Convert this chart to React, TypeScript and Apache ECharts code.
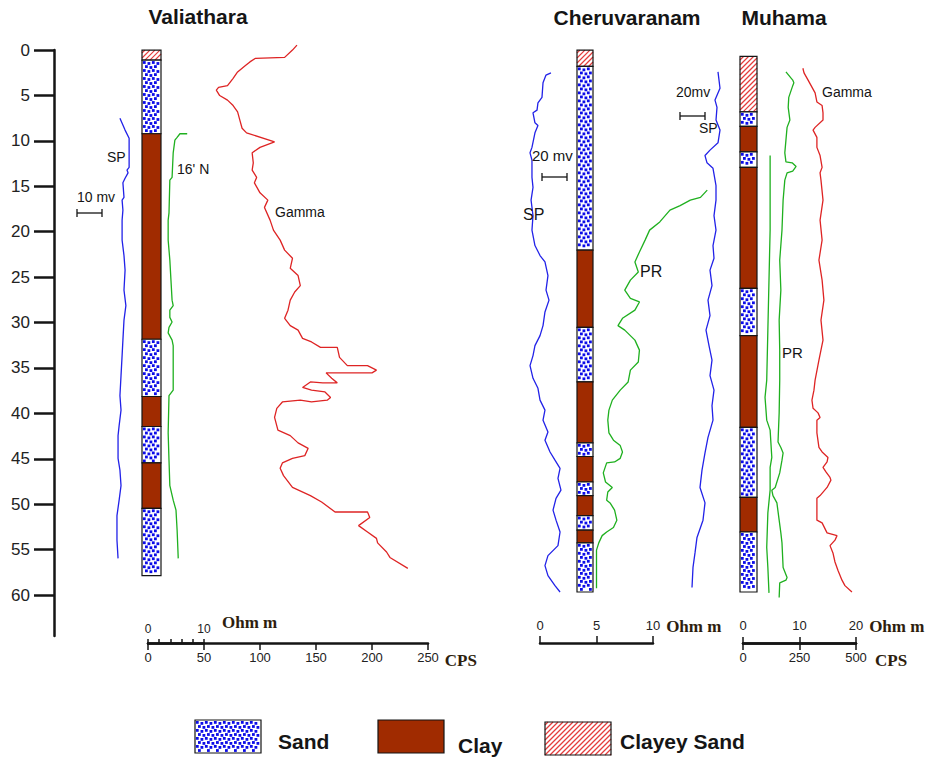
import React, { useEffect, useRef } from 'react';
import * as echarts from 'echarts';

// ---------- axis ticks ----------
const depthTicks = [0, 5, 10, 15, 20, 25, 30, 35, 40, 45, 50, 55, 60];
const valOhmTicks = [0, 2, 4, 6, 8, 10];
const valOhmLabels = [0, 10];
const cherOhmTicks = [0, 5, 10];
const muhOhmTicks = [0, 10, 20];
const muhCpsTicks = [0, 250, 500];

// ---------- lithology (depth in m) ----------
const LITH_KINDS = ['Sand', 'Clay', 'Clayey Sand'];

const valTops = [0, 1.1, 9.2, 31.8, 38.1, 41.4, 45.4, 50.4];
const valBases = [1.1, 9.2, 31.8, 38.1, 41.4, 45.4, 50.4, 57.8];
const valKinds = ['Clayey Sand', 'Sand', 'Clay', 'Sand', 'Clay', 'Sand', 'Clay', 'Sand'];

const cherTops = [0, 1.8, 22.0, 30.5, 36.5, 43.2, 44.7, 47.5, 49.0, 51.2, 52.8, 54.2];
const cherBases = [1.8, 22.0, 30.5, 36.5, 43.2, 44.7, 47.5, 49.0, 51.2, 52.8, 54.2, 59.6];
const cherKinds = ['Clayey Sand', 'Sand', 'Clay', 'Sand', 'Clay', 'Sand', 'Clay', 'Sand', 'Clay', 'Sand', 'Clay', 'Sand'];

const muhTops = [0.7, 6.8, 8.4, 11.2, 12.9, 26.2, 31.4, 41.5, 49.2, 53.0];
const muhBases = [6.8, 8.4, 11.2, 12.9, 26.2, 31.4, 41.5, 49.2, 53.0, 59.6];
const muhKinds = ['Clayey Sand', 'Sand', 'Clay', 'Sand', 'Clay', 'Sand', 'Clay', 'Sand', 'Clay', 'Sand'];

// ---------- Valiathara logs ----------
const valSpDepth = [7.5, 8.8, 9.7, 12.9, 13.2, 13.5, 14.1, 14.6, 16.2, 16.5, 17.6, 18.7, 20.9, 22.6, 24.2, 26.4, 28.1, 29.7, 31.9, 33.6, 35.8, 38.0, 39.6, 41.3, 42.4, 44.9, 46.2, 47.9, 49.5, 51.2, 53.9, 55.9];
const valSpMv = [22.2, 24.1, 25.6, 25.6, 24.8, 25.2, 24.1, 23.3, 23.7, 23.0, 23.3, 23.0, 23.0, 23.7, 24.1, 23.7, 24.4, 23.7, 23.3, 23.0, 22.6, 22.2, 22.6, 21.9, 21.5, 21.5, 22.2, 22.6, 21.9, 21.1, 21.1, 21.5];

const valResDepth = [9.2, 9.2, 9.6, 9.9, 11.3, 14.0, 14.3, 17.9, 18.7, 20.9, 23.1, 25.3, 27.5, 28.1, 28.6, 29.4, 29.9, 30.5, 31.1, 31.9, 32.5, 37.4, 38.0, 42.1, 45.1, 47.9, 49.5, 50.6, 52.8, 55.9];
const valResOhm = [7.0, 5.7, 5.2, 4.8, 4.5, 4.3, 3.9, 3.75, 3.6, 3.6, 3.9, 4.1, 4.3, 4.5, 3.9, 3.9, 4.3, 3.75, 3.6, 4.3, 4.5, 4.5, 3.75, 3.6, 3.75, 3.9, 4.5, 5.0, 5.2, 5.4];

const valGammaDepth = [-0.55, 0, 0.8, 0.9, 1.3, 1.7, 2.4, 3.1, 3.9, 4.1, 4.4, 5.0, 5.5, 6.1, 6.8, 7.7, 8.6, 9.1, 10.1, 10.7, 11.3, 12.4, 13.2, 14.0, 14.6, 15.7, 16.5, 17.3, 18.7, 19.8, 20.9, 22.0, 22.9, 24.0, 24.8, 25.9, 26.6, 27.5, 28.6, 29.5, 30.3, 30.8, 31.7, 32.1, 32.7, 32.7, 33.8, 34.7, 34.7, 35.2, 35.5, 35.5, 35.5, 36.1, 36.6, 36.6, 36.5, 37.1, 37.4, 37.6, 38.2, 38.5, 38.7, 38.5, 38.7, 39.4, 40.4, 41.8, 42.4, 43.2, 43.8, 44.6, 44.9, 45.4, 46.0, 46.8, 48.1, 49.0, 49.7, 50.8, 50.8, 51.4, 52.3, 53.0, 53.7, 54.2, 55.2, 55.8, 57.0];
const valGammaCps = [133, 129, 122, 96, 91, 87, 80, 76, 71, 63, 61, 64, 71, 76, 80, 82, 84, 88, 113, 100, 93, 94, 93, 97, 95, 100, 107, 104, 109, 112, 118, 122, 129, 127, 134, 136, 131, 127, 125, 122, 127, 134, 138, 146, 154, 169, 171, 178, 196, 204, 200, 163, 159, 164, 169, 156, 145, 138, 146, 158, 163, 160, 146, 136, 120, 115, 113, 116, 127, 134, 143, 140, 129, 120, 118, 121, 129, 145, 155, 167, 196, 198, 188, 196, 204, 205, 213, 216, 232];

// ---------- Cheruvaranam logs ----------
const cherSpDepth = [2.5, 2.75, 3.6, 5.2, 5.8, 6.6, 6.9, 8.0, 8.3, 9.1, 10.7, 11.3, 12.1, 14.0, 15.1, 16.5, 18.2, 19.8, 21.5, 22.6, 23.3, 24.8, 26.4, 27.5, 28.8, 30.3, 31.4, 32.5, 33.6, 34.7, 36.1, 37.2, 38.5, 39.6, 40.7, 42.0, 42.9, 44.2, 45.1, 46.0, 47.1, 48.4, 49.3, 50.6, 51.7, 53.0, 54.5, 55.6, 56.7, 57.8, 58.9, 59.6];
const cherSpMv = [31.5, 27.7, 25.4, 24.6, 21.5, 20.8, 17.7, 19.2, 21.5, 19.2, 16.9, 15.4, 16.9, 16.9, 17.7, 16.2, 17.7, 16.9, 19.2, 23.1, 26.9, 29.2, 27.7, 30.0, 26.9, 25.4, 23.1, 19.2, 17.7, 15.4, 17.7, 21.5, 23.1, 26.9, 25.4, 29.2, 26.9, 30.8, 34.6, 38.5, 36.9, 39.2, 35.4, 33.1, 35.4, 38.5, 36.9, 29.2, 26.9, 29.2, 34.6, 38.5];

const cherPrDepth = [15.4, 16.2, 16.5, 17.1, 17.6, 18.9, 19.8, 20.9, 22.2, 23.3, 24.4, 25.3, 26.4, 27.3, 27.7, 28.6, 29.5, 30.3, 30.8, 31.9, 33.0, 34.3, 35.2, 36.5, 37.4, 38.5, 39.6, 40.7, 42.1, 42.9, 43.5, 44.2, 44.9, 45.3, 45.4, 46.5, 47.5, 48.1, 48.6, 49.5, 49.8, 50.6, 51.7, 52.5, 53.0, 53.4, 54.2, 55.0, 59.2];
const cherPrOhm = [14.8, 14.2, 13.3, 12.4, 11.5, 10.6, 9.7, 9.3, 8.8, 8.4, 8.7, 8.0, 7.5, 8.0, 8.8, 8.4, 7.3, 6.9, 7.5, 8.4, 8.8, 8.7, 8.0, 7.8, 7.1, 6.4, 6.1, 6.0, 6.1, 6.5, 7.1, 7.3, 7.1, 6.6, 5.9, 5.6, 5.8, 6.4, 6.0, 5.9, 6.2, 6.6, 6.8, 6.5, 5.9, 5.5, 5.2, 5.0, 5.0];

// ---------- Muhama logs ----------
const muhSpDepth = [2.4, 4.2, 5.5, 6.3, 7.7, 8.8, 10.2, 11.0, 11.6, 12.4, 13.0, 14.9, 16.5, 18.2, 19.8, 21.5, 22.9, 24.2, 25.9, 27.5, 29.2, 30.8, 32.5, 34.1, 35.8, 37.4, 39.1, 40.7, 42.6, 44.3, 46.2, 48.1, 49.8, 51.7, 53.6, 55.3, 56.9, 59.1];
const muhSpMv = [38.4, 40.0, 36.0, 37.6, 36.8, 40.0, 38.4, 32.0, 28.0, 29.6, 34.4, 36.8, 36.8, 35.2, 36.8, 34.4, 35.2, 32.0, 33.6, 30.4, 32.0, 28.8, 31.2, 33.6, 32.0, 35.2, 33.6, 34.4, 30.4, 28.0, 25.6, 24.0, 28.0, 26.4, 21.6, 20.0, 18.4, 17.6];

const muhPrLongDepth = [2.4, 3.3, 3.6, 4.1, 5.2, 6.3, 7.7, 8.5, 9.9, 11.3, 12.3, 12.4, 12.8, 13.3, 13.5, 14.3, 16.5, 19.8, 23.1, 26.4, 29.7, 33.0, 36.3, 39.9, 43.1, 43.7, 44.3, 45.1, 46.5, 48.1, 48.4, 49.0, 49.8, 51.7, 53.1, 54.2, 56.9, 58.0, 58.3, 58.6, 60.2];
const muhPrLongOhm = [7.6, 8.8, 9.0, 8.7, 8.1, 8.0, 8.3, 7.8, 7.6, 7.4, 7.6, 8.7, 9.4, 8.8, 7.8, 7.4, 7.1, 6.9, 6.5, 6.7, 6.4, 6.5, 6.5, 6.4, 6.2, 6.7, 7.1, 6.9, 6.5, 5.7, 5.1, 5.3, 6.0, 6.4, 6.7, 6.9, 7.1, 7.8, 7.6, 6.5, 6.4];

const muhPrShortDepth = [11.6, 14.3, 19.8, 25.3, 30.8, 36.3, 38.2, 40.7, 41.8, 44.8, 45.9, 48.4, 50.9, 54.7, 56.9, 59.7];
const muhPrShortOhm = [4.8, 4.8, 4.8, 4.6, 4.4, 4.2, 3.9, 4.2, 4.8, 5.1, 4.8, 4.8, 4.4, 4.2, 4.4, 4.6];

const muhGammaDepth = [2.0, 2.5, 3.3, 4.7, 5.7, 6.1, 6.9, 7.7, 8.5, 8.8, 9.6, 10.7, 11.6, 12.9, 13.5, 14.3, 16.5, 18.7, 20.9, 23.1, 25.3, 27.5, 29.7, 31.9, 34.1, 36.3, 37.4, 38.5, 39.4, 39.9, 40.4, 40.7, 42.1, 43.7, 44.2, 44.8, 45.3, 45.9, 46.4, 47.0, 47.3, 48.1, 49.0, 49.3, 51.7, 52.0, 53.1, 53.4, 53.9, 54.5, 55.3, 56.3, 57.2, 58.3, 58.9, 59.6];
const muhGammaCps = [265, 270, 288, 319, 327, 350, 354, 354, 319, 310, 327, 327, 341, 350, 341, 345, 354, 341, 350, 336, 350, 358, 345, 354, 336, 319, 314, 305, 310, 332, 341, 327, 327, 336, 350, 376, 372, 354, 367, 385, 389, 372, 341, 327, 327, 350, 372, 416, 407, 385, 398, 407, 420, 438, 451, 482];

// ---------- styles ----------
const INK = '#151515';
const DOT_BLUE = '#0c0ce8';
const SP_BLUE = '#2222e8';
const PR_GREEN = '#1fb01f';
const GAMMA_RED = '#de2424';
const CLAY_COLOR = '#a02b00';
const HATCH_RED = '#e43c3c';
const UNIT_COLOR = '#2e1e0e';
const SANS = '"Liberation Sans", Arial, sans-serif';
const SERIF = '"Liberation Serif", "Times New Roman", serif';

function lithChildren(kind: string, x: number, y: number, w: number, h: number): any[] {
  const out: any[] = [];
  if (kind === 'Clay') {
    out.push({ type: 'rect', shape: { x, y, width: w, height: h }, style: { fill: CLAY_COLOR, stroke: INK, lineWidth: 1.2 } });
    return out;
  }
  out.push({ type: 'rect', shape: { x, y, width: w, height: h }, style: { fill: '#ffffff' } });
  if (kind === 'Sand') {
    const TW = 9, TH = 8, s = 2.8;
    const dots = [[0.2, 0.3], [4.8, 1.3], [2.3, 4.4], [6.8, 5.3]];
    for (let ty = y; ty < y + h; ty += TH) {
      for (let tx = x; tx < x + w; tx += TW) {
        for (const [dx, dy] of dots) {
          const px = tx + dx + 0.7, py = ty + dy + 0.7;
          if (px + s <= x + w - 0.5 && py + s <= y + h - 0.5) {
            out.push({ type: 'rect', shape: { x: px, y: py, width: s, height: s }, style: { fill: DOT_BLUE } });
          }
        }
      }
    }
  } else {
    const sp = 5;
    const cStart = Math.ceil((x + y) / sp) * sp;
    for (let c = cStart; c < x + w + y + h; c += sp) {
      const xa = Math.max(x, c - (y + h));
      const xb = Math.min(x + w, c - y);
      if (xb - xa < 0.5) continue;
      out.push({ type: 'line', shape: { x1: xa, y1: c - xa, x2: xb, y2: c - xb }, style: { stroke: HATCH_RED, lineWidth: 1.2 } });
    }
  }
  out.push({ type: 'rect', shape: { x, y, width: w, height: h }, style: { fill: 'none', stroke: INK, lineWidth: 1.2 } });
  return out;
}

const CURVE_TOP = 41;
const CURVE_H = 591;

const grids = [
  { left: 54, top: 50, width: 10, height: 586 }, // 0 depth axis
  { left: 142, width: 19 }, // 1 Valiathara lithology
  { left: 60, width: 81 }, // 2 Valiathara SP (mV)
  { left: 148, width: 56 }, // 3 Valiathara 16' N (ohm m)
  { left: 148, width: 280 }, // 4 Valiathara gamma (CPS)
  { left: 577, width: 16 }, // 5 Cheruvaranam lithology
  { left: 510, width: 65 }, // 6 Cheruvaranam SP
  { left: 540, width: 113 }, // 7 Cheruvaranam PR scale (0-10 ohm m)
  { left: 740, width: 17 }, // 8 Muhama lithology
  { left: 670, width: 62.5 }, // 9 Muhama SP
  { left: 743, width: 113 }, // 10 Muhama PR
  { left: 743, width: 113 }, // 11 Muhama gamma
  { left: 540, width: 180.8 }, // 12 Cheruvaranam PR curve (0-16 ohm m, same scale)
];

const axisLineStyle = { show: true, onZero: false, lineStyle: { color: INK, width: 2.5 } };
const tickLabel = { fontFamily: SANS, fontSize: 13, color: '#222' };

function hiddenX(i: number, min: number, max: number) {
  return { gridIndex: i, type: 'value', min, max, show: false, splitLine: { show: false } };
}

const unitFont = { fontFamily: SERIF, fontWeight: 'bold', fontSize: 17, color: UNIT_COLOR };

const xAxes: any[] = [
  hiddenX(0, 0, 1),
  hiddenX(1, 0, 1),
  hiddenX(2, 0, 30),
  {
    gridIndex: 3, type: 'value', min: 0, max: 10, interval: 2, position: 'bottom', offset: 11,
    axisLine: axisLineStyle, splitLine: { show: false },
    axisTick: { show: true, inside: true, length: 4, customValues: valOhmTicks, lineStyle: { color: INK, width: 1.5 } },
    axisLabel: { inside: true, margin: 8, customValues: valOhmLabels, ...tickLabel, fontSize: 12 },
    name: 'Ohm m', nameLocation: 'end', nameGap: 18,
    nameTextStyle: { ...unitFont, verticalAlign: 'bottom', align: 'left', padding: [0, 0, 12, 0] },
  },
  {
    gridIndex: 4, type: 'value', min: 0, max: 250, interval: 50, position: 'bottom', offset: 11,
    axisLine: axisLineStyle, splitLine: { show: false },
    axisTick: { show: true, inside: false, length: 7, lineStyle: { color: INK, width: 1.5 } },
    axisLabel: { margin: 8, ...tickLabel },
    name: 'CPS', nameLocation: 'end', nameGap: 12,
    nameTextStyle: { ...unitFont, verticalAlign: 'top', align: 'left', padding: [9, 0, 0, 0] },
  },
  hiddenX(5, 0, 1),
  hiddenX(6, 0, 50),
  {
    gridIndex: 7, type: 'value', min: 0, max: 10, interval: 5, position: 'bottom', offset: 11,
    axisLine: axisLineStyle, splitLine: { show: false },
    axisTick: { show: true, inside: true, length: 7, customValues: cherOhmTicks, lineStyle: { color: INK, width: 1.5 } },
    axisLabel: { inside: true, margin: 11, customValues: cherOhmTicks, ...tickLabel },
    name: 'Ohm m', nameLocation: 'end', nameGap: 9,
    nameTextStyle: { ...unitFont, verticalAlign: 'bottom', align: 'left', padding: [0, 0, 8, 0] },
  },
  hiddenX(8, 0, 1),
  hiddenX(9, 0, 50),
  {
    gridIndex: 10, type: 'value', min: 0, max: 20, interval: 10, position: 'bottom', offset: 11,
    axisLine: axisLineStyle, splitLine: { show: false },
    axisTick: { show: true, inside: true, length: 6, customValues: muhOhmTicks, lineStyle: { color: INK, width: 1.5 } },
    axisLabel: { inside: true, margin: 11, customValues: muhOhmTicks, ...tickLabel },
    name: 'Ohm m', nameLocation: 'end', nameGap: 9,
    nameTextStyle: { ...unitFont, verticalAlign: 'bottom', align: 'left', padding: [0, 0, 8, 0] },
  },
  {
    gridIndex: 11, type: 'value', min: 0, max: 500, interval: 250, position: 'bottom', offset: 11,
    axisLine: axisLineStyle, splitLine: { show: false },
    axisTick: { show: true, inside: false, length: 7, customValues: muhCpsTicks, lineStyle: { color: INK, width: 1.5 } },
    axisLabel: { margin: 8, customValues: muhCpsTicks, ...tickLabel },
    name: 'CPS', nameLocation: 'end', nameGap: 19,
    nameTextStyle: { ...unitFont, verticalAlign: 'top', align: 'left', padding: [9, 0, 0, 0] },
  },
  hiddenX(12, 0, 16),
];

const yAxes: any[] = grids.map((g, i) =>
  i === 0
    ? {
        gridIndex: 0, type: 'value', inverse: true, min: 0, max: 64.5, interval: 5, position: 'left',
        axisLine: { show: true, onZero: false, lineStyle: { color: INK, width: 2.5 } },
        axisTick: { show: true, inside: false, length: 20, customValues: depthTicks, lineStyle: { color: INK, width: 2.5 } },
        axisLabel: {
          customValues: depthTicks, margin: 24, fontFamily: SANS, fontSize: 17, color: '#222',
          formatter: (v: number) => (v % 5 === 0 ? String(v) : ''),
        },
        splitLine: { show: false },
      }
    : { gridIndex: i, type: 'value', inverse: true, min: -1, max: 64, show: false, splitLine: { show: false } }
);

function curve(idx: number, vals: number[], depths: number[], color: string) {
  return {
    type: 'line', xAxisIndex: idx, yAxisIndex: idx,
    data: vals.map((v, k) => [v, depths[k]]),
    showSymbol: false, symbol: 'none', clip: false, silent: true, z: 4,
    lineStyle: { color, width: 1.3 }, itemStyle: { color },
  };
}

function lithSeries(idx: number, tops: number[], bases: number[], kinds: string[]) {
  return {
    type: 'custom', coordinateSystem: 'cartesian2d', xAxisIndex: idx, yAxisIndex: idx,
    data: tops.map((t, k) => [t, bases[k], LITH_KINDS.indexOf(kinds[k])]),
    silent: true, clip: false, z: 3,
    renderItem: (params: any, api: any) => {
      const top = api.value(0), base = api.value(1);
      const kind = LITH_KINDS[api.value(2)];
      const p0 = api.coord([0, top]);
      const p1 = api.coord([1, base]);
      return { type: 'group', children: lithChildren(kind, p0[0], p0[1], p1[0] - p0[0], p1[1] - p0[1]) };
    },
  };
}

function txt(text: string, x: number, y: number, font: string, align = 'left', fill = '#151515') {
  return { type: 'text', x, y, silent: true, z: 10, style: { text, font, fill, textAlign: align, textVerticalAlign: 'middle' } };
}

function scaleBar(x1: number, x2: number, y: number) {
  const st = { stroke: '#151515', lineWidth: 1.3 };
  return [
    { type: 'line', silent: true, z: 10, shape: { x1, y1: y, x2, y2: y }, style: st },
    { type: 'line', silent: true, z: 10, shape: { x1, y1: y - 4, x2: x1, y2: y + 4 }, style: st },
    { type: 'line', silent: true, z: 10, shape: { x1: x2, y1: y - 4, x2, y2: y + 4 }, style: st },
  ];
}

const TITLE_FONT = `bold 21px ${SANS}`;
const NOTE_FONT = `14px ${SANS}`;
const LEGEND_FONT = `bold 21px ${SANS}`;

export default function App() {
  const ref = useRef<HTMLDivElement>(null);
  useEffect(() => {
    if (!ref.current) return;
    const chart = echarts.init(ref.current, undefined, { renderer: 'svg' });
    const option: any = {
      animation: false,
      backgroundColor: '#ffffff',
      grid: grids.map((g: any) => ({
        left: g.left, width: g.width,
        top: g.top ?? CURVE_TOP, height: g.height ?? CURVE_H,
        containLabel: false, outerBoundsMode: 'none', show: false,
      })),
      xAxis: xAxes,
      yAxis: yAxes,
      series: [
        lithSeries(1, valTops, valBases, valKinds),
        lithSeries(5, cherTops, cherBases, cherKinds),
        lithSeries(8, muhTops, muhBases, muhKinds),
        curve(2, valSpMv, valSpDepth, SP_BLUE),
        curve(3, valResOhm, valResDepth, PR_GREEN),
        curve(4, valGammaCps, valGammaDepth, GAMMA_RED),
        curve(6, cherSpMv, cherSpDepth, SP_BLUE),
        curve(12, cherPrOhm, cherPrDepth, PR_GREEN),
        curve(9, muhSpMv, muhSpDepth, SP_BLUE),
        curve(10, muhPrLongOhm, muhPrLongDepth, PR_GREEN),
        curve(10, muhPrShortOhm, muhPrShortDepth, PR_GREEN),
        curve(11, muhGammaCps, muhGammaDepth, GAMMA_RED),
      ],
      graphic: [
        txt('Valiathara', 198, 16, TITLE_FONT, 'center'),
        txt('Cheruvaranam', 627, 17, TITLE_FONT, 'center'),
        txt('Muhama', 784, 17, TITLE_FONT, 'center'),
        // Valiathara notes
        txt('SP', 107, 157, NOTE_FONT),
        txt('10 mv', 77, 197, NOTE_FONT),
        ...scaleBar(77, 102, 213),
        txt("16' N", 177, 169, NOTE_FONT),
        txt('Gamma', 275, 212, NOTE_FONT),
        // Cheruvaranam notes
        txt('20 mv', 532, 155, `15px ${SANS}`),
        ...scaleBar(542, 567, 177),
        txt('SP', 523, 214, `16px ${SANS}`),
        txt('PR', 640, 271, `16px ${SANS}`),
        // Muhama notes
        txt('20mv', 676, 92, NOTE_FONT),
        ...scaleBar(680, 705, 116),
        txt('SP', 699, 128, NOTE_FONT),
        txt('Gamma', 822, 92, NOTE_FONT),
        txt('PR', 782, 352, `15px ${SANS}`),
        // legend
        { type: 'group', silent: true, children: lithChildren('Sand', 195, 720, 66, 33) },
        txt('Sand', 278, 741, LEGEND_FONT),
        { type: 'group', silent: true, children: lithChildren('Clay', 378, 720, 66, 33) },
        txt('Clay', 458, 745, LEGEND_FONT),
        { type: 'group', silent: true, children: lithChildren('Clayey Sand', 545, 722, 66, 33) },
        txt('Clayey Sand', 620, 741, LEGEND_FONT),
      ],
    };
    chart.setOption(option);
    return () => chart.dispose();
  }, []);
  return (
    <div
      ref={ref}
      style={{ position: 'absolute', left: 0, top: 0, width: 930, height: 759, background: '#fff' }}
    />
  );
}
